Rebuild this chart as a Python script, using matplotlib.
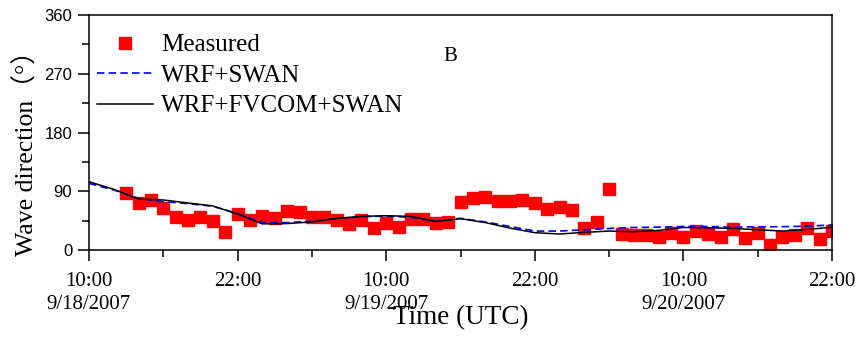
import numpy as np
import matplotlib.pyplot as plt
from matplotlib.ticker import MultipleLocator

plt.rcParams['font.family'] = ['Liberation Serif', 'Noto Sans CJK SC',
                               'DejaVu Serif']

# Measured wave direction, hourly (hours after 10:00 9/18/2007)
meas_hours = list(range(3, 61))
meas_dir = [87.8, 71.5, 76.6, 63.9, 50.1, 46.0, 50.1, 44.9, 27.1, 55.1,
            46.0, 52.0, 48.6, 59.7, 57.8, 51.0, 50.1, 46.0, 39.8, 46.0,
            33.2, 41.8, 35.7, 47.5, 48.0, 40.9, 42.4, 73.5, 79.7, 81.2,
            75.1, 75.1, 76.6, 72.5, 62.8, 65.4, 61.3, 33.2, 42.9, 93.9,
            24.5, 23.0, 23.0, 19.5, 25.6, 20.4, 29.6, 24.5, 20.4, 32.6,
            18.4, 25.6, 7.2, 20.4, 23.0, 33.2, 17.3, 29.6]

# Model output, every 2 hours
model_hours = list(range(0, 61, 2))
wrf_swan = [102, 92, 79, 74, 71, 67, 56, 42, 42, 44, 48, 51, 52, 50, 44,
            48.5, 43, 36, 29, 29, 31, 33, 34.5, 35, 36, 36, 35, 35.5, 35.7,
            36.5, 38.3]
wrf_fvcom_swan = [104.6, 93, 78, 76.6, 72, 67.5, 55, 40, 40.5, 43, 48.5,
                  51.5, 52.5, 51.5, 43.5, 48, 42, 33.5, 26.5, 24.5, 27, 29,
                  28, 30, 34.5, 34, 33, 31, 29, 31.5, 34.8]

xtick_pos = [0, 12, 24, 36, 48, 60]
xtick_labels = ['10:00\n9/18/2007', '22:00', '10:00\n9/19/2007', '22:00',
                '10:00\n9/20/2007', '22:00']
ytick_pos = [0, 90, 180, 270, 360]

fig = plt.figure(figsize=(8.59, 3.45), dpi=100)
ax = fig.add_axes([0.1036, 0.2754, 0.865, 0.681])

ax.plot(meas_hours, meas_dir, 's', color='#ff0000', ms=8.5, label='Measured')
ax.plot(model_hours, wrf_swan, color='#0000ff', lw=1.2,
        linestyle=(0, (4.5, 2.5)), label='WRF+SWAN')
ax.plot(model_hours, wrf_fvcom_swan, '-', color='black', lw=1.1,
        label='WRF+FVCOM+SWAN')

ax.set_xlim(0, 60)
ax.set_ylim(0, 360)
ax.set_xticks(xtick_pos)
ax.set_xticklabels(xtick_labels, linespacing=1.25, fontsize=15)
ax.xaxis.set_minor_locator(MultipleLocator(6))
ax.set_yticks(ytick_pos)
ax.set_yticklabels([str(v) for v in ytick_pos], family='Liberation Sans',
                   fontsize=12)
ax.yaxis.set_minor_locator(MultipleLocator(45))
ax.tick_params(which='major', direction='out', length=8, width=1.1,
               top=False, right=False)
ax.tick_params(which='minor', direction='out', length=5, width=1.1,
               top=False, right=False)
ax.tick_params(axis='x', pad=8)
ax.tick_params(axis='y', pad=4)
for s in ax.spines.values():
    s.set_linewidth(1.1)

ax.set_xlabel('Time (UTC)', fontsize=19.5)
ax.xaxis.set_label_coords(0.5, -0.235)
ax.set_ylabel('Wave direction（°）', fontsize=18.5)
ax.yaxis.set_label_coords(-0.068, 0.44)
ax.text(0.477, 0.805, 'B', transform=ax.transAxes, fontsize=15)

ax.legend(loc='upper left', frameon=False, fontsize=18, handlelength=2.25,
          handletextpad=0.3, labelspacing=0.32, borderaxespad=0,
          borderpad=0, bbox_to_anchor=(0.011, 0.92))

fig.savefig('out.png', dpi=100)
